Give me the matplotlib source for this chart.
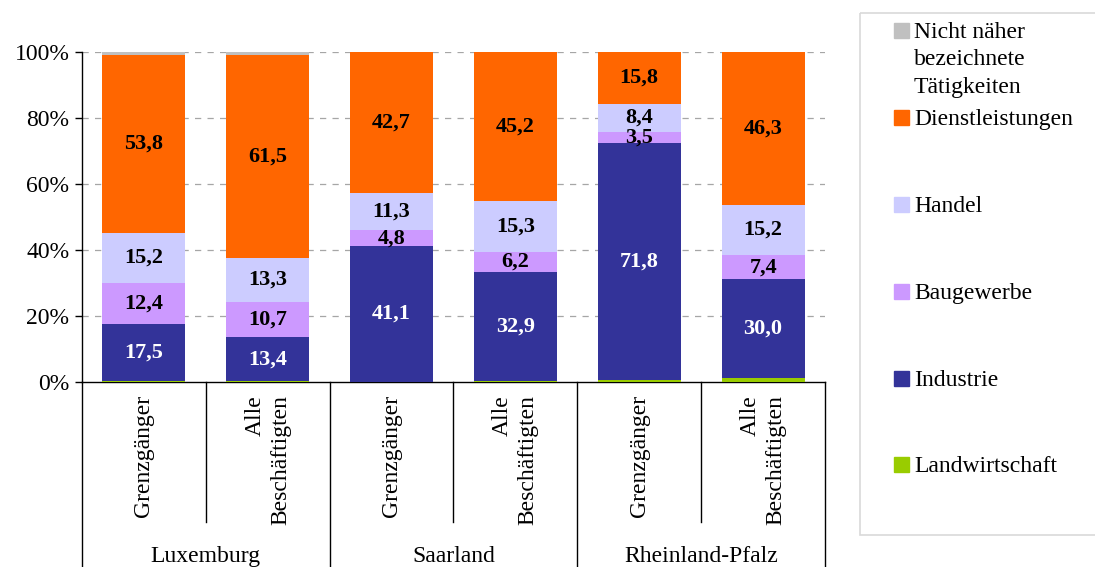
import matplotlib.pyplot as plt
from matplotlib.patches import Rectangle
from matplotlib.transforms import blended_transform_factory

plt.rcParams["font.family"] = ["Liberation Serif", "DejaVu Serif"]

# data (percent shares per bar)
regions = ["Luxemburg", "Saarland", "Rheinland-Pfalz"]
groups = ["Grenzgänger", "Alle\nBeschäftigten"]
sectors = ["Landwirtschaft", "Industrie", "Baugewerbe", "Handel",
           "Dienstleistungen", "Nicht näher\nbezeichnete\nTätigkeiten"]
landwirtschaft = [0.2, 0.2, 0.1, 0.4, 0.5, 1.1]
industrie = [17.5, 13.4, 41.1, 32.9, 71.8, 30.0]
baugewerbe = [12.4, 10.7, 4.8, 6.2, 3.5, 7.4]
handel = [15.2, 13.3, 11.3, 15.3, 8.4, 15.2]
dienstleistungen = [53.8, 61.5, 42.7, 45.2, 15.8, 46.3]
nicht_bezeichnet = [0.9, 0.9, 0.0, 0.0, 0.0, 0.0]

colors = ["#99CC00", "#333399", "#CC99FF", "#CCCCFF", "#FF6600", "#C0C0C0"]
label_colors = [None, "white", "black", "black", "black", None]

series = [landwirtschaft, industrie, baugewerbe, handel, dienstleistungen, nicht_bezeichnet]

W, H = 1095, 567
fig = plt.figure(figsize=(W / 100, H / 100), dpi=100)
ax = fig.add_axes([82 / W, (H - 382) / H, (825 - 82) / W, 330 / H])

x = list(range(len(industrie)))
bottom = [0.0] * len(x)
for vals, col, lcol in zip(series, colors, label_colors):
    ax.bar(x, vals, width=0.67, bottom=bottom, color=col, zorder=3)
    if lcol is not None:
        for i, v in enumerate(vals):
            ax.text(i, bottom[i] + v / 2, f"{v:.1f}".replace(".", ","),
                    ha="center", va="center", color=lcol, fontsize=16,
                    fontweight="bold", zorder=4)
    bottom = [b + v for b, v in zip(bottom, vals)]

ax.set_xlim(-0.5, 5.5)
ax.set_ylim(0, 100)
ax.set_yticks([0, 20, 40, 60, 80, 100])
ax.set_yticklabels([f"{t}%" for t in [0, 20, 40, 60, 80, 100]], fontsize=17)
ax.tick_params(axis="y", direction="out", length=5, width=1, pad=4)
ax.set_xticks([])
for t in [20, 40, 60, 80, 100]:
    ax.axhline(t, color="#A6A6A6", linestyle=(0, (5, 5)), linewidth=0.9, zorder=1)
for s in ["top", "right"]:
    ax.spines[s].set_visible(False)
ax.spines["left"].set_linewidth(1)
ax.spines["bottom"].set_linewidth(1)

# multi-level category axis
trans = blended_transform_factory(ax.transData, ax.transAxes)
for xs in [-0.5, 1.5, 3.5, 5.5]:
    ax.plot([xs, xs], [0, -0.6], color="black", lw=1, transform=trans, clip_on=False)
for xs in [0.5, 2.5, 4.5]:
    ax.plot([xs, xs], [0, -0.424], color="black", lw=1, transform=trans, clip_on=False)
for i in x:
    ax.text(i, -0.04, groups[i % 2], rotation=90, ha="center", va="top",
            multialignment="right", fontsize=17, linespacing=1.3, transform=trans)
for j, r in enumerate(regions):
    ax.text(2 * j + 0.5, -0.53, r, ha="center", va="center", fontsize=17,
            transform=trans)

# legend drawn in pixel coordinates
lax = fig.add_axes([0, 0, 1, 1], zorder=-1)
lax.set_xlim(0, W)
lax.set_ylim(H, 0)
lax.axis("off")
lax.add_patch(Rectangle((860, 13), 260, 522, fill=False, edgecolor="#D9D9D9", lw=1.2))
ys = [30, 117, 204, 291, 378, 464]
for lab, col, yy in zip(sectors[::-1], colors[::-1], ys):
    lax.add_patch(Rectangle((894, yy - 7.5), 15, 15, color=col))
    lax.text(914, yy - 8, lab, ha="left", va="top", fontsize=17, linespacing=1.4)

fig.savefig("out.png", dpi=100)
